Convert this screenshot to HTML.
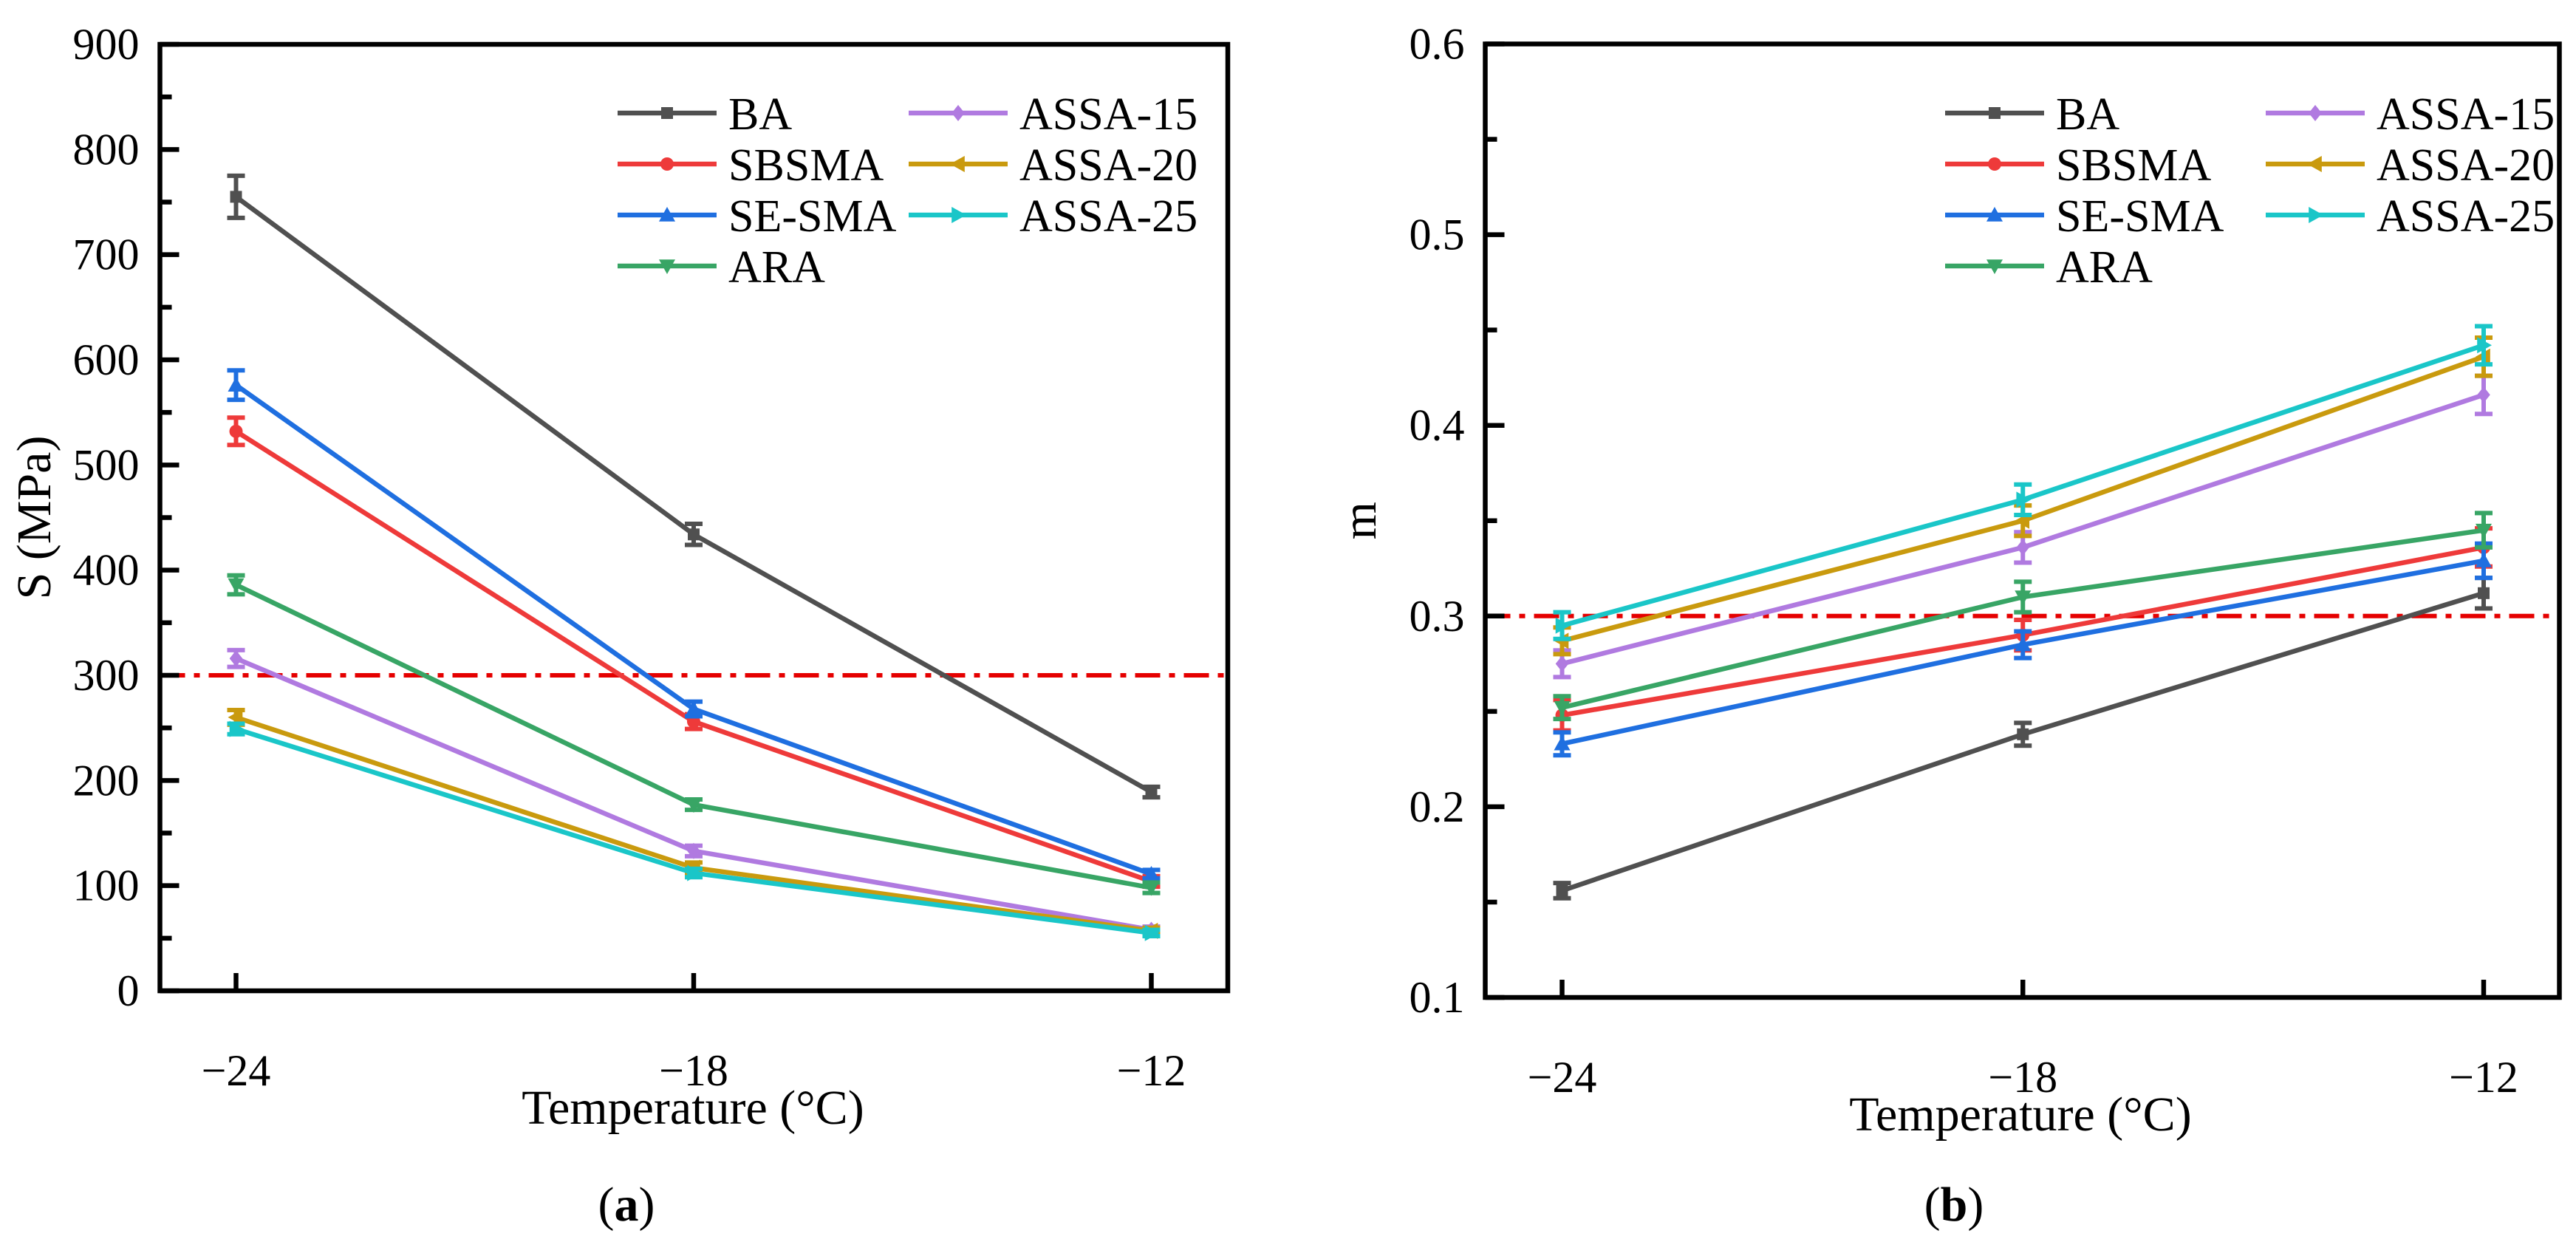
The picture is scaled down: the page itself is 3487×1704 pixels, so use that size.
<!DOCTYPE html>
<html><head><meta charset="utf-8"><style>
html,body{margin:0;padding:0;background:#fff;}
svg{display:block;font-family:"Liberation Serif","Times New Roman",serif;}
</style></head><body>
<svg id="fig" width="3487" height="1704" viewBox="0 0 3487 1704" xmlns="http://www.w3.org/2000/svg"></svg>
<script>
const temps = [-24, -18, -12];
const seriesNames = ["BA","SBSMA","SE-SMA","ARA","ASSA-15","ASSA-20","ASSA-25"];
const seriesColors = ["#505050","#ee3a3a","#1f6fe0","#38a565","#b07ae0","#c99a0e","#1ac6c8"];
const seriesMarkers = ["square","circle","up","down","diamond","left","right"];
// Panel (a): stiffness S (MPa)
const sBA = [755, 434, 189];
const sSBSMA = [532, 256, 104];
const sSESMA = [576, 268, 111];
const sARA = [386, 177, 98];
const sASSA15 = [316, 133, 58];
const sASSA20 = [260, 117, 57];
const sASSA25 = [249, 112, 55];
const sErrBA = [20, 10, 5];
const sErrSBSMA = [13, 7, 5];
const sErrSESMA = [14, 7, 4];
const sErrARA = [9, 5, 5];
const sErrASSA15 = [8, 5, 3];
const sErrASSA20 = [7, 5, 3];
const sErrASSA25 = [5, 4, 3];
const sTicks = [0,100,200,300,400,500,600,700,800,900];
// Panel (b): m-value
const mBA = [0.156, 0.238, 0.312];
const mSBSMA = [0.248, 0.290, 0.336];
const mSESMA = [0.233, 0.285, 0.329];
const mARA = [0.252, 0.310, 0.345];
const mASSA15 = [0.275, 0.336, 0.416];
const mASSA20 = [0.287, 0.350, 0.436];
const mASSA25 = [0.295, 0.361, 0.442];
const mErrBA = [0.004, 0.006, 0.008];
const mErrSBSMA = [0.008, 0.008, 0.010];
const mErrSESMA = [0.006, 0.007, 0.009];
const mErrARA = [0.006, 0.008, 0.009];
const mErrASSA15 = [0.007, 0.008, 0.010];
const mErrASSA20 = [0.007, 0.008, 0.010];
const mErrASSA25 = [0.007, 0.008, 0.010];
const mTicks = ["0.1","0.2","0.3","0.4","0.5","0.6"];
const xTickLabels = ["\u221224","\u221218","\u221212"];
const sLimit = 300;
const mLimit = 0.3;

const NS = "http://www.w3.org/2000/svg";
const fig = document.getElementById("fig");
function el(tag, attrs, parent, text){
  const e = document.createElementNS(NS, tag);
  for (const k in attrs) e.setAttribute(k, attrs[k]);
  if (text !== undefined) e.textContent = text;
  (parent || fig).appendChild(e);
  return e;
}
function marker(g, type, x, y, c){
  const r = 8;
  let m;
  if (type === "square") m = el("rect", {x:x-r, y:y-r, width:2*r, height:2*r, fill:c}, g);
  else if (type === "circle") m = el("circle", {cx:x, cy:y, r:r+1, fill:c}, g);
  else {
    let pts;
    const R = r + 3;
    if (type === "up") pts = [[x,y-R],[x+R,y+R*0.8],[x-R,y+R*0.8]];
    if (type === "down") pts = [[x,y+R],[x+R,y-R*0.8],[x-R,y-R*0.8]];
    if (type === "left") pts = [[x-R,y],[x+R*0.8,y-R],[x+R*0.8,y+R]];
    if (type === "right") pts = [[x+R,y],[x-R*0.8,y-R],[x-R*0.8,y+R]];
    if (type === "diamond") pts = [[x,y-R],[x+R*0.8,y],[x,y+R],[x-R*0.8,y]];
    m = el("polygon", {points: pts.map(p=>p.join(",")).join(" "), fill:c}, g);
  }
  
  
}

function panel(cfg){
  const g = el("g", {});
  
  
  const X = v => cfg.x0 + (v - temps[0]) / (temps[2] - temps[0]) * (cfg.x2 - cfg.x0);
  const Y = v => cfg.bottom - (v - cfg.ymin) / (cfg.ymax - cfg.ymin) * (cfg.bottom - cfg.top);
  const lim = el("line", {x1:cfg.left, x2:cfg.right, y1:Y(cfg.limit), y2:Y(cfg.limit), stroke:"#e50000", "stroke-width":6, "stroke-dasharray":"34,12,8,12"}, g);
  
  
  cfg.series.forEach((vals, i) => {
    const c = seriesColors[i];
    const sg = el("g", {}, g);
    
    
    const pts = vals.map((v, j) => X(temps[j]) + "," + Y(v)).join(" ");
    el("polyline", {points:pts, fill:"none", stroke:c, "stroke-width":6.5, "stroke-linejoin":"round"}, sg);
    vals.forEach((v, j) => {
      const x = X(temps[j]), e = cfg.errs[i][j];
      const y1 = Y(v + e), y2 = Y(v - e);
      const eb = el("path", {d:`M${x},${y1}V${y2}M${x-12},${y1}H${x+12}M${x-12},${y2}H${x+12}`, stroke:c, "stroke-width":6, fill:"none"}, sg);
      
      
      marker(sg, seriesMarkers[i], x, Y(v), c);
    });
  });
  const fr = el("rect", {x:cfg.left, y:cfg.top, width:cfg.right-cfg.left, height:cfg.bottom-cfg.top, fill:"none", stroke:"#000", "stroke-width":6.5}, g);
  
  
  temps.forEach((t, j) => {
    const x = X(t);
    el("line", {x1:x, x2:x, y1:cfg.bottom, y2:cfg.bottom-24, stroke:"#000", "stroke-width":6.5}, g);
    const tl = el("text", {x:x, y:cfg.bottom+128, "font-size":60, "text-anchor":"middle"}, g, xTickLabels[j]);
    
    
  });
  cfg.yticks.forEach((lab, k) => {
    const v = parseFloat(lab);
    const y = Y(v);
    el("line", {x1:cfg.left, x2:cfg.left+26, y1:y, y2:y, stroke:"#000", "stroke-width":6.5}, g);
    if (k < cfg.yticks.length - 1) {
      const ym = Y(v + cfg.ystep / 2);
      el("line", {x1:cfg.left, x2:cfg.left+16, y1:ym, y2:ym, stroke:"#000", "stroke-width":6.5}, g);
    }
    const yl = el("text", {x:cfg.left-28, y:y+20, "font-size":60, "text-anchor":"end"}, g, String(lab));
    
    
  });
  const xt = el("text", {x:cfg.xtitleX, y:cfg.bottom+180, "font-size":66, "text-anchor":"middle"}, g, "Temperature (\u00B0C)");
  
  
  const ycx = cfg.ytitleX, ycy = (cfg.top + cfg.bottom) / 2;
  const yt = el("text", {x:ycx, y:ycy, "font-size":66, "text-anchor":"middle", transform:`rotate(-90 ${ycx} ${ycy})`}, g, cfg.ytitle);
  
  
  const pl = el("text", {x:cfg.xtitleX - 90, y:1652, "font-size":66, "text-anchor":"middle"}, g);
  
  
  el("tspan", {}, pl, "(");
  el("tspan", {"font-weight":"bold"}, pl, cfg.label);
  el("tspan", {}, pl, ")");
  const lg = el("g", {}, g);
  
  
  seriesNames.forEach((n, i) => {
    const col = i < 4 ? 0 : 1, row = i < 4 ? i : i - 4;
    const lx = cfg.legX[col], ly = 153 + row * 69;
    const eg = el("g", {}, lg);
    
    
    el("line", {x1:lx, x2:lx+134, y1:ly, y2:ly, stroke:seriesColors[i], "stroke-width":6.5}, eg);
    marker(eg, seriesMarkers[i], lx+67, ly, seriesColors[i]);
    el("text", {x:lx+150, y:ly+22, "font-size":62}, eg, n);
  });
}

panel({name:"panel-a-stiffness", left:216.5, right:1662, top:60, bottom:1341, x0:319.5, x2:1558.5,
  ymin:0, ymax:900, ystep:100, yticks:sTicks, limit:sLimit,
  series:[sBA,sSBSMA,sSESMA,sARA,sASSA15,sASSA20,sASSA25],
  errs:[sErrBA,sErrSBSMA,sErrSESMA,sErrARA,sErrASSA15,sErrASSA20,sErrASSA25],
  xtitleX:938, ytitleX:68, ytitle:"S (MPa)", label:"a", legX:[836,1230]});
panel({name:"panel-b-m-value", left:2010.5, right:3464.5, top:59.5, bottom:1350, x0:2114.5, x2:3362,
  ymin:0.1, ymax:0.6, ystep:0.1, yticks:mTicks, limit:mLimit,
  series:[mBA,mSBSMA,mSESMA,mARA,mASSA15,mASSA20,mASSA25],
  errs:[mErrBA,mErrSBSMA,mErrSESMA,mErrARA,mErrASSA15,mErrASSA20,mErrASSA25],
  xtitleX:2735, ytitleX:1862, ytitle:"m", label:"b", legX:[2633,3067]});
</script>
</body></html>
